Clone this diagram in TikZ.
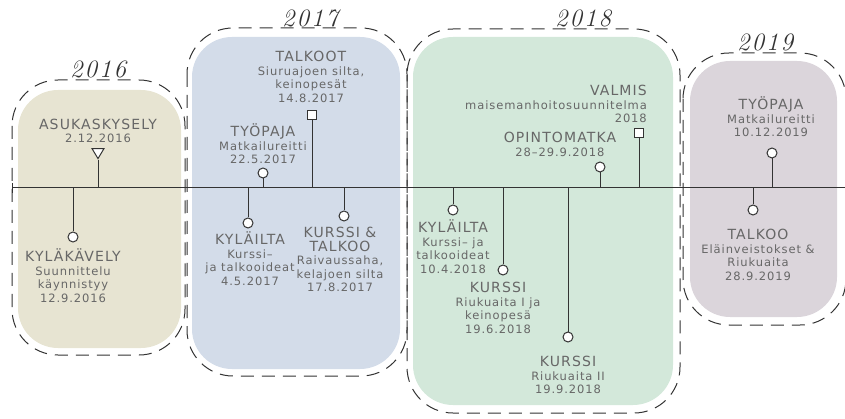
\documentclass[tikz,border=0pt]{standalone}
\usepackage{fontspec}
\setmainfont{DejaVu Sans}[LetterSpace=8]
\newfontfamily\yearfont{Latin Modern Roman}[LetterSpace=8]
\usetikzlibrary{arrows.meta}
\usetikzlibrary{shapes.geometric}

\definecolor{txtgray}{HTML}{676767}
\definecolor{linegray}{HTML}{333333}
\definecolor{fill16}{HTML}{E7E4D2}
\definecolor{fill17}{HTML}{D3DCE9}
\definecolor{fill18}{HTML}{D3E8DA}
\definecolor{fill19}{HTML}{DBD5DB}

\newcommand{\ttl}[1]{{\fontsize{14}{14}\selectfont\vphantom{Ä}#1}}

\tikzset{
  yearbox/.style={draw=linegray,line width=1pt,dash pattern=on 13pt off 8pt,rounded corners=46pt},
  yearfill/.style={rounded corners=40pt},
  yearlbl/.style={anchor=base,inner sep=0pt,font=\yearfont\itshape\fontsize{25}{25}\selectfont,text=linegray},
  lbl/.style={align=center,inner sep=0pt,text=txtgray,font=\fontsize{11.5}{13.5}\selectfont},
  dot/.style={circle,draw=linegray,fill=white,line width=1pt,minimum size=10pt,inner sep=0pt},
  sq/.style={rectangle,draw=linegray,fill=white,line width=1pt,minimum size=8.5pt,inner sep=0pt},
  tri/.style={isosceles triangle,shape border rotate=-90,isosceles triangle stretches,draw=linegray,fill=white,line width=1pt,minimum width=12pt,minimum height=10pt,inner sep=0pt},
  stem/.style={draw=linegray,line width=1pt}
}

\begin{document}
\begin{tikzpicture}[x=1pt,y=-1pt]
			\useasboundingbox (0,0) rectangle (845,419);

			% year areas
			\fill[fill16,yearfill] (18,90) rectangle (181,348);
			\fill[fill17,yearfill] (192,37) rectangle (400,369);
			\fill[fill18,yearfill] (413,37) rectangle (673,405);
			\fill[fill19,yearfill] (690,61) rectangle (837,317);

			\draw[yearbox] (12,80) rectangle (185,355);
			\draw[yearbox] (187,28) rectangle (407,376);
			\draw[yearbox] (407,29) rectangle (680,413);
			\draw[yearbox] (683,53) rectangle (846,325);

			\node[yearlbl] (y16) at (98,78) {2016};
			\node[yearlbl] (y17) at (310,27) {2017};
			\node[yearlbl] (y18) at (583,27) {2018};
			\node[yearlbl] (y19) at (765,51) {2019};

			% timeline
			\coordinate (tl0) at (12,188);
			\coordinate (tl1) at (845,188);
			\draw[stem] (tl0)--(tl1);
			\draw[stem] (12,183)--(12,193);

			% 2016
			\node[tri] (asu) at (98,152) {};
			\draw[stem] (asu.south)--(asu.south |- tl0);
			\node[lbl,anchor=south] (asu-t) at (98,143) {\ttl{ASUKASKYSELY}\\2.12.2016};

			\node[dot] (kyk) at (73,237) {};
			\draw[stem] (kyk)--(kyk |- tl0);
			\node[lbl,anchor=north] (kyk-t) at (73,249) {\ttl{KYLÄKÄVELY}\\Suunnittelu\\käynnistyy\\12.9.2016};

			% 2017
			\node[dot] (typ17) at (263,173) {};
			\draw[stem] (typ17)--(typ17 |- tl0);
			\node[lbl,anchor=north] (typ17-t) at (263,124) {\ttl{TYÖPAJA}\\Matkailureitti\\22.5.2017};

			\node[sq] (tal17) at (312,115) {};
			\draw[stem] (tal17)--(tal17 |- tl0);
			\node[lbl,anchor=north] (tal17-t) at (311,49) {\ttl{TALKOOT}\\Siuruajoen silta,\\keinopesät\\14.8.2017};

			\node[dot] (kyl17) at (248,223) {};
			\draw[stem] (kyl17)--(kyl17 |- tl0);
			\node[lbl,anchor=north] (kyl17-t) at (250,232) {\ttl{KYLÄILTA}\\Kurssi–\\ja talkooideat\\4.5.2017};

			\node[dot] (kur17) at (344,216) {};
			\draw[stem] (kur17)--(kur17 |- tl0);
			\node[lbl,anchor=north] (kur17-t) at (340,225) {\ttl{KURSSI \&}\\\ttl{TALKOO}\\Raivaussaha,\\kelajoen silta\\17.8.2017};

			% 2018
			\node[dot] (kyl18) at (453,210) {};
			\draw[stem] (kyl18)--(kyl18 |- tl0);
			\node[lbl,anchor=north] (kyl18-t) at (453,220) {\ttl{KYLÄILTA}\\Kurssi– ja\\talkooideat\\10.4.2018};

			\node[dot] (kur18a) at (503,270) {};
			\draw[stem] (kur18a)--(kur18a |- tl0);
			\node[lbl,anchor=north] (kur18a-t) at (498,280) {\ttl{KURSSI}\\Riukuaita I ja\\keinopesä\\19.6.2018};

			\node[dot] (kur18b) at (568,337) {};
			\draw[stem] (kur18b)--(kur18b |- tl0);
			\node[lbl,anchor=north] (kur18b-t) at (568,354) {\ttl{KURSSI}\\Riukuaita II\\19.9.2018};

			\node[dot] (opi) at (600,167) {};
			\draw[stem] (opi)--(opi |- tl0);
			\node[lbl,anchor=north] (opi-t) at (560,130) {\ttl{OPINTOMATKA}\\28–29.9.2018};

			\node[sq] (val) at (639,133) {};
			\draw[stem] (val)--(val |- tl0);
			\node[lbl,align=right,anchor=north east] (val-t) at (647,83) {\ttl{VALMIS}\\maisemanhoitosuunnitelma\\2018};

			% 2019
			\node[dot] (typ19) at (772,153) {};
			\draw[stem] (typ19)--(typ19 |- tl0);
			\node[lbl,anchor=north] (typ19-t) at (771,97) {\ttl{TYÖPAJA}\\Matkailureitti\\10.12.2019};

			\node[dot] (tal19) at (753,210) {};
			\draw[stem] (tal19)--(tal19 |- tl0);
			\node[lbl,anchor=north] (tal19-t) at (758,227) {\ttl{TALKOO}\\Eläinveistokset \&\\Riukuaita\\28.9.2019};
		\end{tikzpicture}
\end{document}
